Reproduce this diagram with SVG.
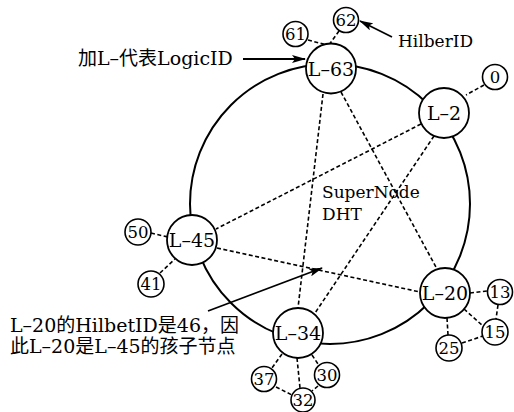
<svg xmlns="http://www.w3.org/2000/svg" width="514" height="412" viewBox="0 0 514 412">
  <style>
    .ring { fill: none; stroke: #000; stroke-width: 2; }
    .node circle { fill: #fff; stroke: #000; stroke-width: 1.8; }
    .node text { font-family: "DejaVu Serif", "Liberation Serif", "Noto Sans CJK SC", serif; font-size: 19px; text-anchor: middle; fill: #000; }
    .leaf circle { fill: #fff; stroke: #000; stroke-width: 1.6; }
    .leaf text { font-family: "DejaVu Serif", "Liberation Serif", "Noto Sans CJK SC", serif; font-size: 16.5px; text-anchor: middle; fill: #000; }
    .link { stroke: #000; stroke-width: 1.6; stroke-dasharray: 4 2.5; fill: none; }
    .pointer { stroke: #000; stroke-width: 1.8; fill: none; marker-end: url(#head); }
    .label { font-family: "DejaVu Serif", "Liberation Serif", "Noto Sans CJK SC", serif; font-size: 17px; fill: #000; }
    .note { font-family: "DejaVu Serif", "Liberation Serif", "Noto Sans CJK SC", serif; font-size: 19px; fill: #000; }
  </style>
  <defs>
    <marker id="head" markerUnits="userSpaceOnUse" markerWidth="14" markerHeight="8" refX="13" refY="4" orient="auto">
      <path d="M0,0 L14,4 L0,8 L3,4 Z" fill="#000"/>
    </marker>
  </defs>

  <rect width="514" height="412" fill="#fff"/>

  <!-- SuperNode DHT ring -->
  <circle class="ring" cx="330" cy="204" r="140"/>

  <!-- connectors -->
  <g id="connectors">
    <line class="link" x1="323" y1="94" x2="298" y2="308"/>
    <line class="link" x1="341" y1="92" x2="437" y2="269"/>
    <line class="link" x1="421" y1="124" x2="216" y2="229"/>
    <line class="link" x1="434" y1="136" x2="315" y2="313"/>
    <line class="link" x1="217" y1="248" x2="420" y2="292"/>
    <line class="link" x1="308" y1="40" x2="327" y2="45"/>
    <line class="link" x1="339" y1="31" x2="329" y2="45"/>
    <line class="link" x1="484" y1="85" x2="466" y2="95"/>
    <line class="link" x1="151" y1="233" x2="168" y2="237"/>
    <line class="link" x1="160" y1="273" x2="175" y2="259"/>
    <line class="link" x1="470" y1="293" x2="487" y2="291"/>
    <line class="link" x1="498" y1="305" x2="496" y2="319"/>
    <line class="link" x1="464" y1="309" x2="483" y2="326"/>
    <line class="link" x1="447" y1="318" x2="448" y2="335"/>
    <line class="link" x1="462" y1="343" x2="483" y2="336"/>
    <line class="link" x1="282" y1="354" x2="272" y2="368"/>
    <line class="link" x1="297" y1="358" x2="300" y2="388"/>
    <line class="link" x1="312" y1="355" x2="318" y2="364"/>
    <line class="link" x1="276" y1="387" x2="292" y2="395"/>
    <line class="link" x1="318" y1="386" x2="312" y2="391"/>
    <!-- annotation pointers -->
    <line class="pointer" x1="243" y1="59" x2="305" y2="59"/>
    <line class="pointer" x1="392" y1="37" x2="360" y2="21"/>
    <line class="pointer" x1="208" y1="311" x2="322" y2="268"/>
  </g>

  <!-- logic nodes -->
  <g id="L-63" class="node"><circle cx="331" cy="68.5" r="25"/><text x="331" y="75.5">L–63</text></g>
  <g id="L-2" class="node"><circle cx="444" cy="113" r="25"/><text x="444" y="120">L–2</text></g>
  <g id="L-45" class="node"><circle cx="192" cy="240" r="25"/><text x="192" y="247">L–45</text></g>
  <g id="L-20" class="node"><circle cx="445" cy="293" r="25"/><text x="445" y="300">L–20</text></g>
  <g id="L-34" class="node"><circle cx="298" cy="333" r="25"/><text x="298" y="340">L–34</text></g>

  <!-- Hilbert id nodes -->
  <g id="h61" class="leaf"><circle cx="295.5" cy="34" r="12.5"/><text x="295.5" y="40">61</text></g>
  <g id="h62" class="leaf"><circle cx="346" cy="20" r="12.5"/><text x="346" y="26">62</text></g>
  <g id="h0" class="leaf"><circle cx="495" cy="77" r="12.5"/><text x="495" y="83">0</text></g>
  <g id="h50" class="leaf"><circle cx="138" cy="232" r="13"/><text x="138" y="238">50</text></g>
  <g id="h41" class="leaf"><circle cx="151" cy="284" r="13"/><text x="151" y="290">41</text></g>
  <g id="h13" class="leaf"><circle cx="500" cy="292" r="12.5"/><text x="500" y="298">13</text></g>
  <g id="h15" class="leaf"><circle cx="495" cy="332" r="13"/><text x="495" y="338">15</text></g>
  <g id="h25" class="leaf"><circle cx="449" cy="348" r="13"/><text x="449" y="354">25</text></g>
  <g id="h37" class="leaf"><circle cx="264" cy="379" r="12.5"/><text x="264" y="385">37</text></g>
  <g id="h30" class="leaf"><circle cx="327" cy="375" r="12.5"/><text x="327" y="381">30</text></g>
  <g id="h32" class="leaf"><circle cx="303" cy="400" r="12"/><text x="303" y="406">32</text></g>

  <!-- labels -->
  <text class="label" x="322" y="198">SuperNode</text>
  <text class="label" x="322" y="220">DHT</text>
  <text class="label" x="398" y="47">HilberID</text>
  <text class="note" x="78" y="65">加L–代表LogicID</text>
  <text class="note" x="10" y="332">L–20的HilbetID是46，因</text>
  <text class="note" x="10" y="353">此L–20是L–45的孩子节点</text>
</svg>
